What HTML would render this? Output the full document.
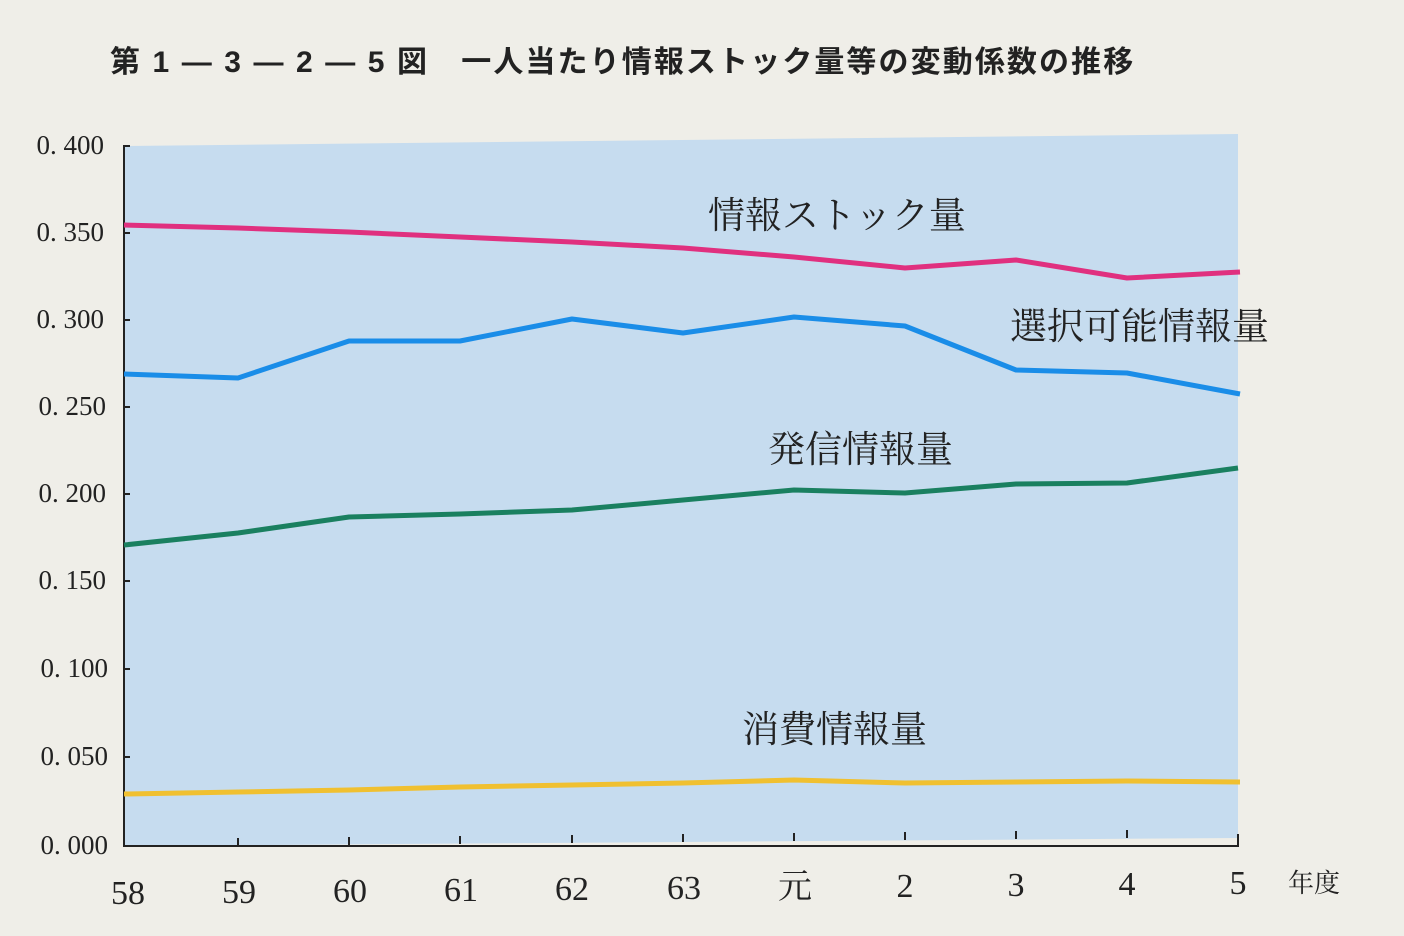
<!DOCTYPE html>
<html><head><meta charset="utf-8"><style>
html,body{margin:0;padding:0;background:#efeee8;}
svg{display:block;}
text{font-family:"Liberation Serif","Noto Serif CJK SC",serif;fill:#222;}
.t{font-family:"Liberation Sans","Noto Sans CJK JP",sans-serif;font-weight:bold;}
</style></head><body>
<svg width="1404" height="936" viewBox="0 0 1404 936">
<rect width="1404" height="936" fill="#efeee8"/>
<text class="t" x="110" y="72" font-size="30" letter-spacing="2.1" fill="#222">第 1 ― 3 ― 2 ― 5 図　一人当たり情報ストック量等の変動係数の推移</text>
<polygon points="124,146 1238,134 1238,838 124,846" fill="#c6dcef"/>
<g stroke="#222" stroke-width="2" fill="none">
<path d="M130,146 H124 V846 H1238 V834"/>
<path d="M124,233h6M124,320h6M124,407h6M124,494h6M124,581h6M124,669h6M124,757h6"/>
<path d="M238,846v-8M349,845v-8M460,844v-8M572,843v-8M683,842v-8M794,841v-8M905,840v-8M1016,839v-8M1127,838v-8"/>
</g>
<g font-size="27" text-anchor="end">
<text x="104" y="154">0. 400</text><text x="104" y="241">0. 350</text><text x="104" y="328">0. 300</text>
<text x="106" y="415">0. 250</text><text x="106" y="502">0. 200</text><text x="106" y="589">0. 150</text>
<text x="108" y="677">0. 100</text><text x="108" y="765">0. 050</text><text x="108" y="854">0. 000</text>
</g>
<g font-size="34" text-anchor="middle">
<text x="128" y="904">58</text><text x="239" y="903">59</text><text x="350" y="902">60</text><text x="461" y="901">61</text>
<text x="572" y="900">62</text><text x="684" y="899">63</text><text x="795" y="898">元</text><text x="905" y="897">2</text>
<text x="1016" y="896">3</text><text x="1127" y="895">4</text><text x="1238" y="894">5</text>
</g>
<text x="1288" y="892" font-size="26">年度</text>
<g fill="none" stroke-width="5" stroke-linejoin="round">
<polyline stroke="#e0307f" points="124,225 238,228 349,232 460,237 572,242 683,248 794,257 905,268 1016,260 1127,278 1240,272"/>
<polyline stroke="#1a8de8" points="124,374 238,378 349,341 460,341 572,319 683,333 794,317 905,326 1016,370 1127,373 1240,394"/>
<polyline stroke="#1a8060" points="124,545 238,533 349,517 460,514 572,510 683,500 794,490 905,493 1016,484 1127,483 1238,468"/>
<polyline stroke="#f0c030" points="124,794 238,792 349,790 460,787 572,785 683,783 794,780 905,783 1016,782 1127,781 1240,782"/>
</g>
<g font-size="37">
<text x="708" y="228">情報ストック量</text>
<text x="1010" y="339">選択可能情報量</text>
<text x="768" y="462">発信情報量</text>
<text x="742" y="742">消費情報量</text>
</g>
</svg>
</body></html>
